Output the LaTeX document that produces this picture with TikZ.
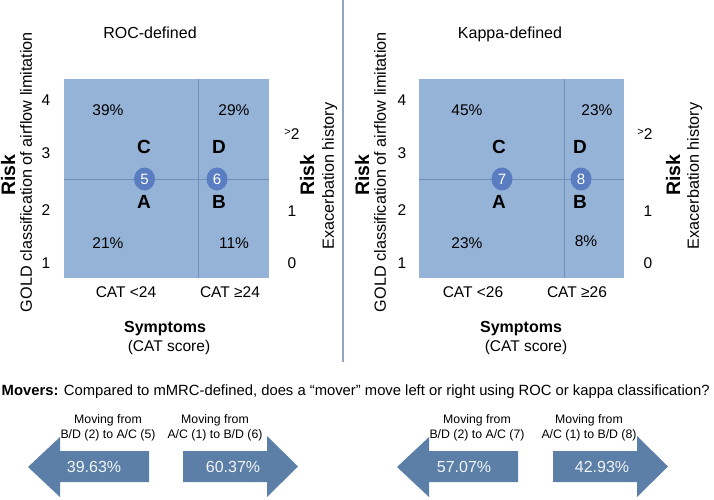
\documentclass[tikz,border=0pt]{standalone}
\usepackage{fontspec}
\setmainfont{Liberation Sans}
\usetikzlibrary{shapes.geometric}
\definecolor{quadblue}{HTML}{95B3D7}
\definecolor{quadline}{HTML}{6F8FB8}
\definecolor{grpblue}{HTML}{5A7CC0}
\definecolor{movblue}{HTML}{5B7FA7}
\definecolor{sepline}{HTML}{8EA6C4}
\tikzset{
  txt/.style={inner sep=0pt, text depth=0pt, font=\fontsize{15.5}{18}\selectfont},
  title/.style={txt, font=\fontsize{16}{19}\selectfont},
  grade/.style={txt, font=\fontsize{19}{22}\selectfont\bfseries},
  risk/.style={txt, rotate=90, font=\fontsize{19.5}{22}\selectfont\bfseries},
  axis/.style={txt, rotate=90, font=\fontsize{16.2}{19}\selectfont},
  grp/.style={ellipse, fill=grpblue, text=white, minimum width=21pt, minimum height=23pt, inner sep=0pt, font=\fontsize{15}{18}\selectfont},
  quad/.style={fill=quadblue},
  split/.style={draw=quadline, line width=0.8pt},
  mover/.style={fill=movblue},
  movpct/.style={txt, text=white!92!movblue, font=\fontsize{16}{19}\selectfont},
  movlab/.style={inner sep=0pt, align=center, font=\fontsize{12.3}{15}\selectfont}
}
\begin{document}
\begin{tikzpicture}[x=1pt, y=-1pt]
  \useasboundingbox (0,0) rectangle (714,499);

  \draw[sepline, line width=1.6pt] (343,0) -- (343,362);

  % ROC panel
  \fill[quad] (64,79) rectangle (269,278);
  \draw[split] (198,79) -- (198,278);
  \draw[split] (64,179) -- (269,179);
  \node[title] (rocT) at (150,33) {ROC-defined};
  \node[txt] (rocC) at (108,110) {39\%};
  \node[txt] (rocD) at (234,110) {29\%};
  \node[txt] (rocA) at (108,243) {21\%};
  \node[txt] (rocB) at (234,243) {11\%};
  \node[grade] (rocGC) at (144,147) {C};
  \node[grade] (rocGD) at (219,147) {D};
  \node[grade] (rocGA) at (144,202) {A};
  \node[grade] (rocGB) at (219,202) {B};
  \node[grp] (roc5) at (144.5,179) {5};
  \node[grp] (roc6) at (217,179) {6};
  \node[txt] (rocY4) at (46,100) {4};
  \node[txt] (rocY3) at (46,153) {3};
  \node[txt] (rocY2) at (46,210) {2};
  \node[txt] (rocY1) at (46,263) {1};
  \node[txt] (rocE2) at (292,134) {{\fontsize{11}{11}\selectfont\raisebox{3.5pt}{>}}2};
  \node[txt] (rocE1) at (292,211) {1};
  \node[txt] (rocE0) at (292,263) {0};
  \node[risk] (rocRL) at (8,175) {Risk};
  \node[axis] (rocGold) at (26,172) {GOLD classification of airflow limitation};
  \node[risk] (rocRR) at (307,175) {Risk};
  \node[axis] (rocExa) at (328,176) {Exacerbation history};
  \node[txt] (rocLo) at (126,292) {CAT <24};
  \node[txt] (rocHi) at (230,292) {CAT ≥24};
  \node[txt, font=\fontsize{16}{19}\selectfont\bfseries] (rocSym) at (165,327) {Symptoms};
  \node[txt] (rocScore) at (169,346) {(CAT score)};

  % Kappa panel
  \fill[quad] (419,79) rectangle (624,278);
  \draw[split] (564,79) -- (564,278);
  \draw[split] (419,179) -- (624,179);
  \node[title] (kapT) at (510,33) {Kappa-defined};
  \node[txt] (kapC) at (467,110) {45\%};
  \node[txt] (kapD) at (597,110) {23\%};
  \node[txt] (kapA) at (467,243) {23\%};
  \node[txt] (kapB) at (586,241) {8\%};
  \node[grade] (kapGC) at (499,147) {C};
  \node[grade] (kapGD) at (580,147) {D};
  \node[grade] (kapGA) at (499,202) {A};
  \node[grade] (kapGB) at (580,202) {B};
  \node[grp] (kap7) at (502,179) {7};
  \node[grp] (kap8) at (581,179) {8};
  \node[txt] (kapY4) at (402,100) {4};
  \node[txt] (kapY3) at (402,153) {3};
  \node[txt] (kapY2) at (402,210) {2};
  \node[txt] (kapY1) at (402,263) {1};
  \node[txt] (kapE2) at (645,134) {{\fontsize{11}{11}\selectfont\raisebox{3.5pt}{>}}2};
  \node[txt] (kapE1) at (648,211) {1};
  \node[txt] (kapE0) at (648,263) {0};
  \node[risk] (kapRL) at (362,175) {Risk};
  \node[axis] (kapGold) at (380,172) {GOLD classification of airflow limitation};
  \node[risk] (kapRR) at (673,175) {Risk};
  \node[axis] (kapExa) at (693,176) {Exacerbation history};
  \node[txt] (kapLo) at (473,292) {CAT <26};
  \node[txt] (kapHi) at (577,292) {CAT ≥26};
  \node[txt, font=\fontsize{16}{19}\selectfont\bfseries] (kapSym) at (521,327) {Symptoms};
  \node[txt] (kapScore) at (526,346) {(CAT score)};

  % movers
  \node[inner sep=0pt, anchor=base west, font=\fontsize{14.8}{17}\selectfont] (movQ) at (1.5,395.5)
    {\textbf{Movers:} Compared to mMRC-defined, does a “mover” move left or right using ROC or kappa classification?};

  \fill[mover] (28,467) -- (60,437) -- (60,451) -- (149,451) -- (149,482) -- (60,482) -- (60,497) -- cycle;
  \fill[mover] (183,451) -- (267,451) -- (267,436) -- (298,466.5) -- (267,497) -- (267,482) -- (183,482) -- cycle;
  \fill[mover] (397,467) -- (429,437) -- (429,451) -- (518,451) -- (518,482) -- (429,482) -- (429,497) -- cycle;
  \fill[mover] (553,451) -- (637,451) -- (637,436) -- (668,466.5) -- (637,497) -- (637,482) -- (553,482) -- cycle;
  \node[movpct] (rocLeft) at (94,467) {39.63\%};
  \node[movpct] (rocRight) at (233,467) {60.37\%};
  \node[movpct] (kapLeft) at (464,467) {57.07\%};
  \node[movpct] (kapRight) at (602,467) {42.93\%};
  \node[movlab] (rocLeftL) at (108,428) {Moving from\\B/D (2) to A/C (5)};
  \node[movlab] (rocRightL) at (215,428) {Moving from\\A/C (1) to B/D (6)};
  \node[movlab] (kapLeftL) at (477,428) {Moving from\\B/D (2) to A/C (7)};
  \node[movlab] (kapRightL) at (589,428) {Moving from\\A/C (1) to B/D (8)};
\end{tikzpicture}
\end{document}
